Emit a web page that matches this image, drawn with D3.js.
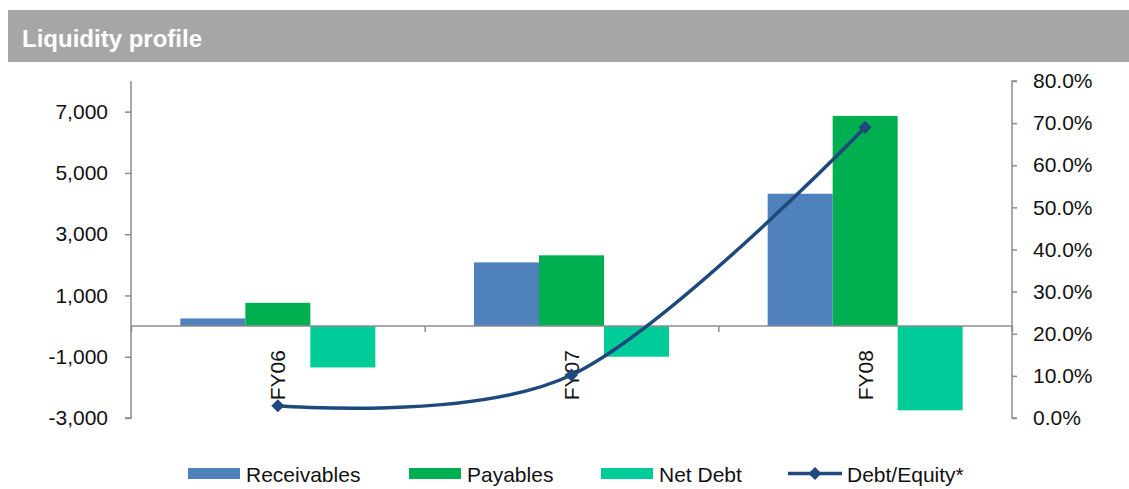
<!DOCTYPE html>
<html>
<head>
<meta charset="utf-8">
<script src="https://cdn.jsdelivr.net/npm/d3@7"></script>
<style>
  html, body { margin: 0; padding: 0; background: #fff; }
  svg { display: block; font-family: "Liberation Sans", Arial, sans-serif; }
</style>
</head>
<body>
<svg id="chart" width="1129" height="489"></svg>
<script>
// values
const categories = ["FY06", "FY07", "FY08"];
const seriesNames = ["Receivables", "Payables", "Net Debt"];
const receivables = [250, 2080, 4320];
const payables = [760, 2310, 6860];
const netDebt = [-1350, -1000, -2750];
const debtEquity = [0.029, 0.102, 0.69];
const leftTicks = [-3000, -1000, 1000, 3000, 5000, 7000];
const rightTicks = [0, 0.1, 0.2, 0.3, 0.4, 0.5, 0.6, 0.7, 0.8];

const barColors = ["#4f81bd", "#00b050", "#00cc99"];
const lineColor = "#1f497d";
const axisColor = "#8c8c8c";

const svg = d3.select("#chart");
const plotLeft = 131, plotRight = 1012, plotTop = 81, plotBottom = 418;

// header band
svg.append("rect")
  .attr("x", 8).attr("y", 10).attr("width", 1129 - 8).attr("height", 52)
  .attr("fill", "#a6a6a6");
svg.append("text")
  .attr("x", 22).attr("y", 47)
  .attr("fill", "#fff").attr("font-size", 24).attr("font-weight", "bold")
  .text("Liquidity profile");

const x0 = d3.scaleBand().domain(categories).range([plotLeft, plotRight])
  .paddingInner(0.336).paddingOuter(0.168);
const x1 = d3.scaleBand().domain(seriesNames).range([0, x0.bandwidth()]);
const y = d3.scaleLinear().domain([-3000, 8000]).range([plotBottom, plotTop]);
const y2 = d3.scaleLinear().domain([0, 0.8]).range([plotBottom, plotTop]);

const rows = categories.map((c, i) => ({
  cat: c,
  vals: [receivables[i], payables[i], netDebt[i]]
}));

// bars
const groups = svg.append("g").selectAll("g").data(rows).join("g")
  .attr("transform", d => `translate(${x0(d.cat)},0)`);
groups.selectAll("rect")
  .data(d => d.vals.map((v, j) => ({ name: seriesNames[j], v, j })))
  .join("rect")
  .attr("x", d => x1(d.name))
  .attr("width", x1.bandwidth())
  .attr("y", d => y(Math.max(0, d.v)))
  .attr("height", d => Math.abs(y(d.v) - y(0)))
  .attr("fill", d => barColors[d.j]);

// left axis (plain hyphen for negatives, as in the original)
const fmtLeft = v => d3.format(",")(v).replace("\u2212", "-");
const leftAxis = svg.append("g")
  .attr("transform", `translate(${plotLeft},0)`)
  .call(d3.axisLeft(y).tickValues(leftTicks).tickSize(6).tickPadding(17)
    .tickFormat(fmtLeft));
// right axis
const rightAxis = svg.append("g")
  .attr("transform", `translate(${plotRight},0)`)
  .call(d3.axisRight(y2).tickValues(rightTicks).tickSize(5).tickPadding(16)
    .tickFormat(d3.format(".1%")));

[leftAxis, rightAxis].forEach(a => {
  a.select(".domain").attr("stroke", axisColor).attr("stroke-width", 1.5)
    .attr("d", a === leftAxis ? `M0,${plotTop}V${plotBottom}H-6` : `M5,${plotTop}H0V${plotBottom}H5`);
  a.selectAll(".tick line").attr("stroke", axisColor).attr("stroke-width", 1.5);
  a.selectAll(".tick text").attr("font-size", 21).attr("fill", "#111");
});

// zero line with category ticks
const cx = d3.axisBottom(d3.scaleLinear().domain([0, 3]).range([plotLeft, plotRight]))
  .tickValues([0, 1, 2, 3]).tickSize(6).tickFormat("");
const catAxis = svg.append("g").attr("transform", `translate(0,${y(0)})`).call(cx);
catAxis.select(".domain").attr("stroke", axisColor).attr("stroke-width", 1.5)
  .attr("d", `M${plotLeft},0H${plotRight}`);
catAxis.selectAll(".tick line").attr("stroke", axisColor).attr("stroke-width", 1.5);

// category labels (rotated)
svg.append("g").selectAll("text").data(categories).join("text")
  .attr("transform", d => `translate(${x0(d) + x0.bandwidth() / 2},${y(0) + 24}) rotate(-90)`)
  .attr("text-anchor", "end").attr("dy", "0.36em")
  .attr("font-size", 21).attr("fill", "#111")
  .text(d => d);

// debt/equity line
const pts = categories.map((c, i) => [x0(c) + x0.bandwidth() / 2, y2(debtEquity[i])]);
svg.append("path")
  .attr("d", d3.line().curve(d3.curveCardinal.tension(0))(pts))
  .attr("fill", "none").attr("stroke", lineColor).attr("stroke-width", 3.5);
const diamond = d3.symbol().type(d3.symbolDiamond2 || d3.symbolDiamond).size(110);
svg.append("g").selectAll("path").data(pts).join("path")
  .attr("transform", d => `translate(${d[0]},${d[1]})`)
  .attr("d", diamond).attr("fill", lineColor);

// legend
const legendY = 473.5;
const legendItems = [
  { name: "Receivables", x: 188, type: "bar", color: barColors[0] },
  { name: "Payables", x: 409, type: "bar", color: barColors[1] },
  { name: "Net Debt", x: 601, type: "bar", color: barColors[2] },
  { name: "Debt/Equity*", x: 788, type: "line", color: lineColor }
];
const lg = svg.append("g").selectAll("g").data(legendItems).join("g")
  .attr("transform", d => `translate(${d.x},${legendY})`);
lg.filter(d => d.type === "bar").append("rect")
  .attr("x", 0).attr("y", -5.5).attr("width", 52).attr("height", 11)
  .attr("fill", d => d.color);
lg.filter(d => d.type === "line").append("line")
  .attr("x1", 0).attr("x2", 54).attr("y1", 0).attr("y2", 0)
  .attr("stroke", d => d.color).attr("stroke-width", 3.5);
lg.filter(d => d.type === "line").append("path")
  .attr("transform", "translate(27,0)").attr("d", diamond).attr("fill", d => d.color);
lg.append("text")
  .attr("x", d => d.type === "line" ? 59 : 58).attr("y", 8)
  .attr("font-size", 21).attr("fill", "#111")
  .text(d => d.name);
</script>
</body>
</html>
